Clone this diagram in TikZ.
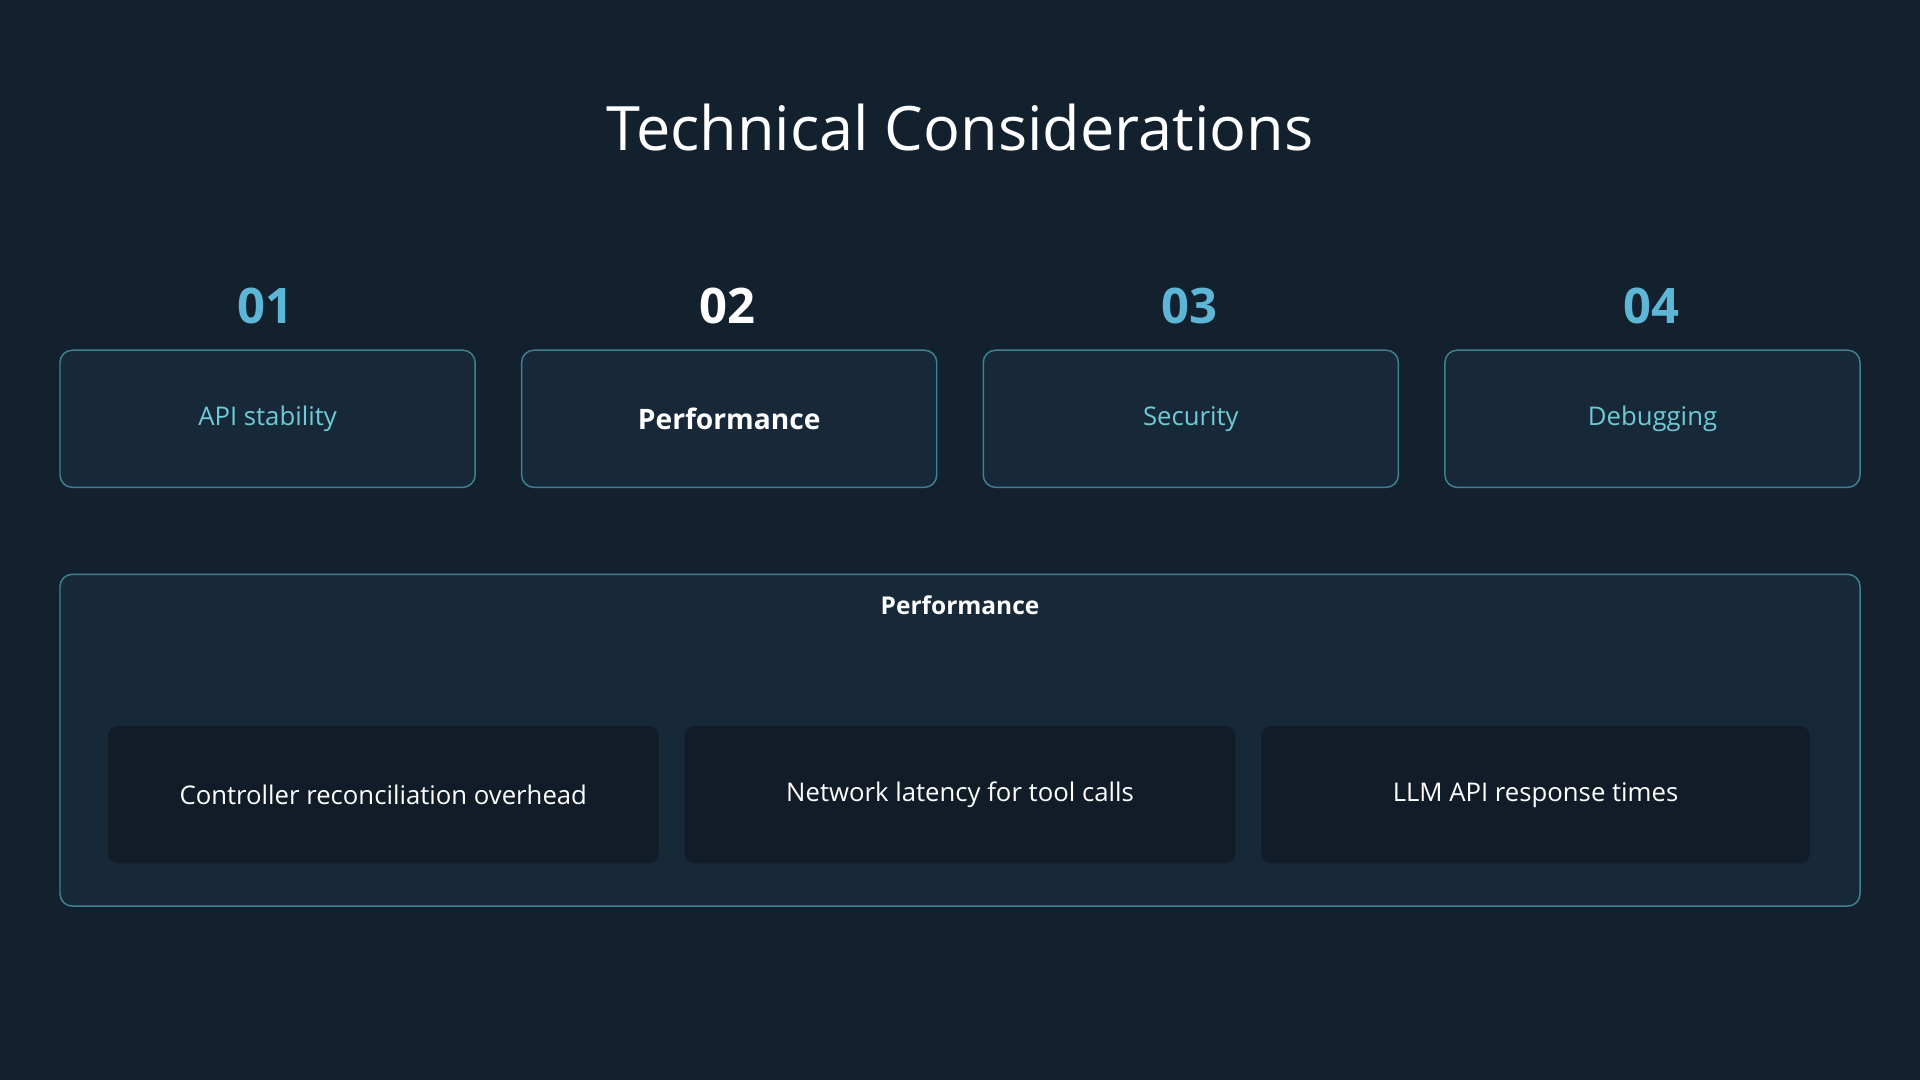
\documentclass[tikz,border=0pt]{standalone}
\usepackage{fontspec}
\setmainfont{Open Sans}
\definecolor{bg}{HTML}{13202D}
\definecolor{boxfill}{HTML}{172939}
\definecolor{boxline}{HTML}{3E8290}
\definecolor{inner}{HTML}{111C28}
\definecolor{numc}{HTML}{5DB6D6}
\definecolor{tealtxt}{HTML}{6FCAD6}
\begin{document}
\begin{tikzpicture}[x=1pt,y=-1pt,
  card/.style={draw=boxline,line width=1.2pt,fill=boxfill,rounded corners=10pt},
  inbox/.style={fill=inner,rounded corners=8pt},
  num/.style={font=\fontsize{40}{44}\selectfont\bfseries,text=numc},
  lab/.style={font=\fontsize{21}{24}\selectfont,text=tealtxt},
  wlab/.style={font=\fontsize{21}{24}\selectfont,text=white}]
\fill[bg] (0,0) rectangle (1568,882);
\useasboundingbox (0,0) rectangle (1568,882);
\node[font=\fontsize{50}{56}\selectfont,text=white] (title) at (784,104) {Technical Considerations};
\foreach \x in {49,426,803,1180}{
  \draw[card] (\x,286) rectangle ++(339,112);
}
\node[lab] (b1) at (218.5,342) {API stability};
\node[font=\fontsize{23}{26}\selectfont\bfseries,text=white] (b2) at (595.5,342) {Performance};
\node[lab] (b3) at (972.5,342) {Security};
\node[lab] (b4) at (1349.5,342) {Debugging};
\node[num] (n1) at (217,250) {01};
\node[num,text=white] (n2) at (594,250) {02};
\node[num] (n3) at (971,250) {03};
\node[num] (n4) at (1349,250) {04};
\draw[card] (49,469) rectangle (1519,740);
\node[wlab,font=\fontsize{20}{24}\selectfont\bfseries] (ptitle) at (784,494) {Performance};
\fill[inbox] (88,593) rectangle (538,705);
\fill[inbox] (559,593) rectangle (1009,705);
\fill[inbox] (1030,593) rectangle (1478,705);
\node[wlab] (i1) at (313,649) {Controller reconciliation overhead};
\node[wlab] (i2) at (784,649) {Network latency for tool calls};
\node[wlab] (i3) at (1254,649) {LLM API response times};
\end{tikzpicture}
\end{document}
